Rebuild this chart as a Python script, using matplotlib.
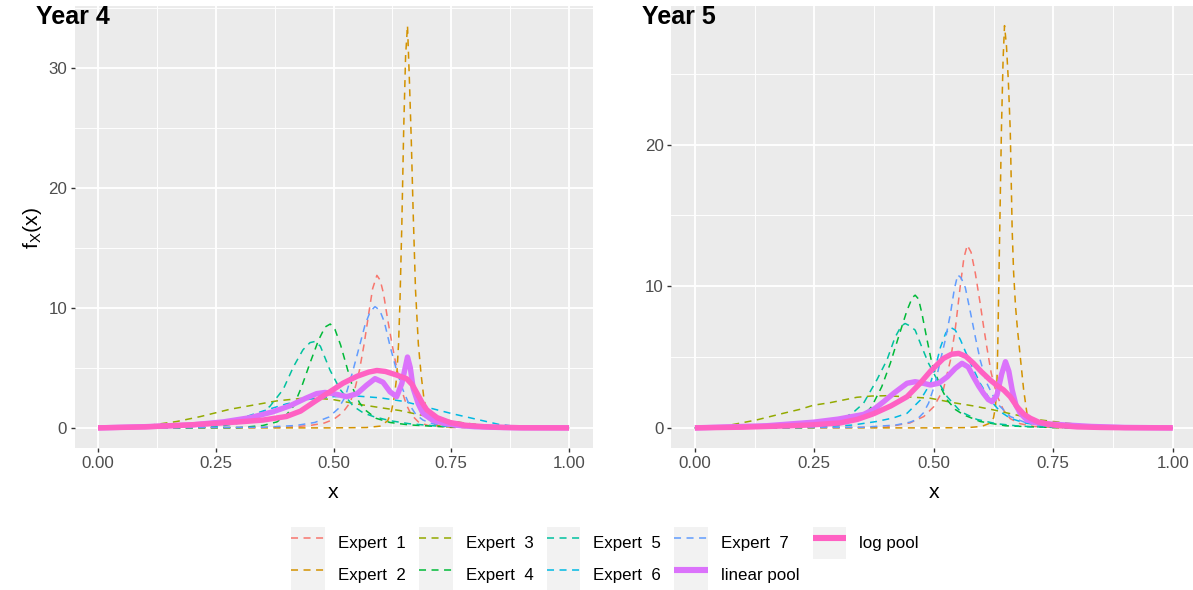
import matplotlib
matplotlib.use("Agg")
import matplotlib.pyplot as plt
from matplotlib.ticker import MultipleLocator, FuncFormatter
from matplotlib.legend_handler import HandlerLine2D
from matplotlib.patches import Rectangle
from matplotlib.lines import Line2D

plt.rcParams['font.family'] = ['Liberation Sans', 'DejaVu Sans']

# ---------------- data ----------------
series_names = ["Expert  1", "Expert  2", "Expert  3", "Expert  4", "Expert  5",
                "Expert  6", "Expert  7", "linear pool", "log pool"]
series_colors = ["#F8766D", "#D39200", "#93AA00", "#00BA38", "#00C19F",
                 "#00B9E3", "#619CFF", "#DB72FB", "#FF61C3"]
panel_titles = ["Year 4", "Year 5"]

# ---- Year 4 ----
y4_e1_x = [0.0, 0.40, 0.45, 0.48, 0.50, 0.52, 0.535, 0.545, 0.555, 0.565, 0.575, 0.583, 0.592, 0.599, 0.606, 0.615, 0.625, 0.635, 0.645, 0.655, 0.665, 0.68, 0.70, 0.75, 1.0]
y4_e1_y = [0.0, 0.05, 0.2, 0.4, 0.7, 1.3, 2.1, 3.2, 4.8, 7.0, 9.6, 11.6, 12.7, 12.3, 11.2, 9.0, 6.8, 4.8, 3.1, 1.9, 1.1, 0.5, 0.2, 0.03, 0.0]

y4_e2_x = [0.0, 0.50, 0.57, 0.60, 0.615, 0.623, 0.629, 0.634, 0.638, 0.641, 0.645, 0.649, 0.653, 0.657, 0.661, 0.665, 0.669, 0.674, 0.68, 0.686, 0.692, 0.70, 0.71, 0.73, 0.80, 1.0]
y4_e2_y = [0.0, 0.0, 0.03, 0.15, 0.6, 1.4, 2.6, 4.2, 7.0, 10.5, 17.0, 25.0, 31.0, 33.5, 29.0, 24.0, 18.0, 11.5, 7.0, 4.4, 2.4, 0.9, 0.35, 0.1, 0.01, 0.0]

y4_e3_x = [0.0, 0.05, 0.10, 0.125, 0.167, 0.217, 0.28, 0.337, 0.38, 0.43, 0.47, 0.50, 0.556, 0.605, 0.64, 0.67, 0.70, 0.74, 0.77, 0.80, 0.85, 0.90, 1.0]
y4_e3_y = [0.0, 0.02, 0.15, 0.3, 0.53, 0.94, 1.55, 1.95, 2.25, 2.45, 2.45, 2.35, 1.95, 1.65, 1.45, 1.2, 0.95, 0.65, 0.45, 0.3, 0.12, 0.03, 0.0]

y4_e4_x = [0.0, 0.30, 0.35, 0.38, 0.40, 0.415, 0.432, 0.45, 0.468, 0.482, 0.493, 0.503, 0.515, 0.528, 0.542, 0.555, 0.567, 0.59, 0.62, 0.66, 0.72, 0.80, 1.0]
y4_e4_y = [0.0, 0.02, 0.2, 0.5, 1.1, 1.8, 3.4, 5.4, 7.3, 8.4, 8.65, 8.2, 6.9, 5.1, 3.2, 2.1, 1.5, 0.8, 0.45, 0.25, 0.12, 0.04, 0.0]

y4_e5_x = [0.0, 0.20, 0.26, 0.30, 0.333, 0.365, 0.393, 0.415, 0.435, 0.45, 0.461, 0.472, 0.4926, 0.514, 0.542, 0.563, 0.585, 0.62, 0.66, 0.72, 0.80, 1.0]
y4_e5_y = [0.0, 0.03, 0.15, 0.4, 0.8, 1.8, 3.2, 5.1, 6.5, 7.1, 7.2, 6.8, 4.8, 3.2, 1.8, 1.25, 0.94, 0.6, 0.35, 0.15, 0.05, 0.0]

y4_e6_x = [0.0, 0.15, 0.25, 0.30, 0.35, 0.40, 0.45, 0.50, 0.55, 0.60, 0.65, 0.70, 0.75, 0.80, 0.85, 0.90, 0.95, 1.0]
y4_e6_y = [0.0, 0.05, 0.3, 0.75, 1.4, 2.0, 2.4, 2.6, 2.65, 2.5, 2.2, 1.7, 1.2, 0.75, 0.3, 0.06, 0.01, 0.0]

y4_e7_x = [0.0, 0.35, 0.42, 0.46, 0.49, 0.51, 0.525, 0.54, 0.555, 0.567, 0.578, 0.588, 0.598, 0.608, 0.62, 0.633, 0.647, 0.66, 0.675, 0.69, 0.71, 0.75, 0.85, 1.0]
y4_e7_y = [0.0, 0.05, 0.2, 0.45, 0.9, 1.6, 2.6, 4.6, 6.8, 8.6, 9.7, 10.1, 9.8, 8.8, 6.8, 4.9, 3.2, 2.0, 1.1, 0.65, 0.35, 0.1, 0.02, 0.0]

y4_lin_x = [0.0, 0.10, 0.20, 0.266, 0.323, 0.372, 0.408, 0.44, 0.464, 0.482, 0.50, 0.528, 0.55, 0.57, 0.588, 0.605, 0.62, 0.634, 0.645, 0.657, 0.663, 0.669, 0.68, 0.69, 0.71, 0.733, 0.76, 0.80, 0.85, 0.90, 1.0]
y4_lin_y = [0.0, 0.1, 0.25, 0.5, 0.85, 1.35, 1.85, 2.45, 2.85, 2.95, 2.85, 2.6, 2.85, 3.55, 4.1, 3.8, 3.0, 2.6, 3.7, 5.9, 5.0, 3.3, 2.0, 1.2, 0.65, 0.4, 0.22, 0.1, 0.04, 0.01, 0.0]

y4_log_x = [0.0, 0.10, 0.195, 0.25, 0.30, 0.35, 0.40, 0.43, 0.464, 0.49, 0.52, 0.55, 0.575, 0.592, 0.61, 0.634, 0.655, 0.667, 0.677, 0.688, 0.698, 0.72, 0.747, 0.78, 0.82, 0.86, 0.90, 1.0]
y4_log_y = [0.0, 0.08, 0.25, 0.38, 0.5, 0.65, 0.95, 1.4, 2.3, 2.95, 3.72, 4.3, 4.65, 4.78, 4.7, 4.4, 4.1, 3.6, 2.9, 2.1, 1.5, 0.85, 0.45, 0.22, 0.1, 0.04, 0.01, 0.0]

# ---- Year 5 ----
y5_e1_x = [0.0, 0.40, 0.45, 0.479, 0.50, 0.52, 0.535, 0.545, 0.555, 0.563, 0.570, 0.578, 0.587, 0.597, 0.604, 0.611, 0.62, 0.632, 0.646, 0.66, 0.68, 0.71, 0.76, 1.0]
y5_e1_y = [0.0, 0.05, 0.35, 0.8, 1.5, 2.7, 4.8, 7.0, 9.9, 12.0, 12.9, 12.4, 10.9, 8.8, 7.2, 5.7, 3.9, 2.3, 1.25, 0.65, 0.3, 0.1, 0.02, 0.0]

y5_e2_x = [0.0, 0.50, 0.57, 0.60, 0.615, 0.625, 0.629, 0.632, 0.634, 0.636, 0.638, 0.6415, 0.645, 0.648, 0.652, 0.656, 0.660, 0.664, 0.667, 0.671, 0.675, 0.681, 0.688, 0.695, 0.705, 0.72, 0.75, 1.0]
y5_e2_y = [0.0, 0.0, 0.02, 0.1, 0.3, 0.7, 1.5, 3.0, 6.0, 10.0, 14.0, 21.0, 26.0, 28.4, 27.0, 24.5, 21.0, 14.0, 11.0, 8.6, 7.0, 5.0, 2.7, 1.0, 0.35, 0.1, 0.02, 0.0]

y5_e3_x = [0.0, 0.05, 0.094, 0.129, 0.185, 0.22, 0.248, 0.283, 0.311, 0.339, 0.37, 0.40, 0.44, 0.493, 0.541, 0.583, 0.625, 0.667, 0.70, 0.723, 0.75, 0.779, 0.82, 0.87, 0.92, 1.0]
y5_e3_y = [0.0, 0.05, 0.33, 0.56, 1.03, 1.31, 1.6, 1.78, 1.97, 2.16, 2.25, 2.27, 2.2, 2.09, 1.78, 1.55, 1.27, 0.95, 0.72, 0.56, 0.45, 0.33, 0.18, 0.08, 0.02, 0.0]

y5_e4_x = [0.0, 0.25, 0.30, 0.339, 0.355, 0.370, 0.391, 0.409, 0.426, 0.444, 0.455, 0.461, 0.468, 0.475, 0.486, 0.496, 0.514, 0.528, 0.545, 0.5625, 0.597, 0.65, 0.72, 0.80, 1.0]
y5_e4_y = [0.0, 0.03, 0.2, 0.56, 0.95, 1.5, 2.9, 4.56, 6.4, 8.3, 9.2, 9.37, 9.1, 8.1, 6.2, 4.56, 2.9, 1.97, 1.3, 0.92, 0.45, 0.15, 0.05, 0.01, 0.0]

y5_e5_x = [0.0, 0.22, 0.27, 0.30, 0.318, 0.335, 0.353, 0.381, 0.402, 0.419, 0.432, 0.440, 0.450, 0.461, 0.475, 0.489, 0.507, 0.528, 0.556, 0.59, 0.63, 0.68, 0.75, 1.0]
y5_e5_y = [0.0, 0.03, 0.2, 0.5, 0.8, 1.2, 1.74, 3.4, 4.8, 6.4, 7.2, 7.37, 7.2, 6.9, 5.7, 4.56, 3.4, 2.2, 1.15, 0.6, 0.3, 0.12, 0.03, 0.0]

y5_e6_x = [0.0, 0.25, 0.33, 0.38, 0.415, 0.444, 0.472, 0.493, 0.505, 0.514, 0.525, 0.535, 0.545, 0.556, 0.566, 0.577, 0.597, 0.618, 0.639, 0.66, 0.69, 0.73, 0.80, 0.90, 1.0]
y5_e6_y = [0.0, 0.05, 0.2, 0.45, 0.7, 1.03, 1.97, 3.15, 4.5, 5.7, 6.7, 7.1, 6.9, 6.2, 5.4, 4.56, 3.15, 1.97, 1.15, 0.68, 0.35, 0.15, 0.04, 0.01, 0.0]

y5_e7_x = [0.0, 0.35, 0.42, 0.45, 0.465, 0.478, 0.489, 0.503, 0.514, 0.524, 0.535, 0.543, 0.550, 0.557, 0.566, 0.577, 0.587, 0.597, 0.611, 0.632, 0.66, 0.69, 0.73, 0.80, 1.0]
y5_e7_y = [0.0, 0.04, 0.2, 0.4, 0.6, 1.05, 1.74, 3.15, 4.8, 6.2, 8.1, 9.8, 10.8, 10.6, 9.9, 8.1, 6.4, 4.8, 3.15, 1.74, 0.8, 0.4, 0.15, 0.04, 0.0]

y5_lin_x = [0.0, 0.05, 0.15, 0.248, 0.30, 0.353, 0.374, 0.395, 0.416, 0.444, 0.461, 0.478, 0.493, 0.51, 0.528, 0.545, 0.559, 0.572, 0.583, 0.594, 0.604, 0.614, 0.622, 0.632, 0.642, 0.650, 0.657, 0.664, 0.672, 0.681, 0.695, 0.709, 0.74, 0.779, 0.83, 0.90, 1.0]
y5_lin_y = [0.0, 0.05, 0.15, 0.4, 0.62, 0.95, 1.3, 1.85, 2.44, 3.15, 3.26, 3.15, 3.03, 3.15, 3.6, 4.2, 4.56, 4.3, 3.6, 2.95, 2.44, 2.0, 1.85, 2.3, 3.8, 4.67, 4.0, 2.68, 1.6, 1.03, 0.56, 0.4, 0.28, 0.2, 0.1, 0.03, 0.0]

y5_log_x = [0.0, 0.10, 0.20, 0.248, 0.304, 0.34, 0.374, 0.41, 0.444, 0.47, 0.493, 0.52, 0.537, 0.552, 0.567, 0.583, 0.60, 0.618, 0.632, 0.646, 0.66, 0.674, 0.688, 0.702, 0.72, 0.75, 0.80, 0.85, 0.90, 1.0]
y5_log_y = [0.0, 0.05, 0.15, 0.22, 0.35, 0.6, 1.0, 1.55, 2.2, 3.1, 4.0, 4.9, 5.2, 5.26, 5.05, 4.56, 3.95, 3.38, 3.0, 2.68, 2.2, 1.5, 0.98, 0.68, 0.4, 0.2, 0.07, 0.03, 0.01, 0.0]

year4 = [(y4_e1_x, y4_e1_y), (y4_e2_x, y4_e2_y), (y4_e3_x, y4_e3_y), (y4_e4_x, y4_e4_y),
         (y4_e5_x, y4_e5_y), (y4_e6_x, y4_e6_y), (y4_e7_x, y4_e7_y),
         (y4_lin_x, y4_lin_y), (y4_log_x, y4_log_y)]
year5 = [(y5_e1_x, y5_e1_y), (y5_e2_x, y5_e2_y), (y5_e3_x, y5_e3_y), (y5_e4_x, y5_e4_y),
         (y5_e5_x, y5_e5_y), (y5_e6_x, y5_e6_y), (y5_e7_x, y5_e7_y),
         (y5_lin_x, y5_lin_y), (y5_log_x, y5_log_y)]

# ---------------- figure ----------------
W, H = 1193, 590
fig = plt.figure(figsize=(W / 100, H / 100), dpi=100)
fig.patch.set_facecolor('white')

TICK_FS = 12.2
TEXT_COL = '#4D4D4D'
DASH_LW = 1.1
POOL_LW = 3.9
DASHES = (4.6, 3.6)

# panel pixel boxes (left, right, top, bottom)
panels_px = [(74.5, 592.6, 5.5, 448.0), (671.0, 1196.6, 5.5, 448.0)]

for i, (data, (l, r, t, b)) in enumerate(zip([year4, year5], panels_px)):
    ax = fig.add_axes([l / W, 1 - b / H, (r - l) / W, (b - t) / H])
    ax.set_facecolor('#EBEBEB')
    for s in ax.spines.values():
        s.set_visible(False)
    for k, (xs, ys) in enumerate(data):
        if k < 7:
            ax.plot(xs, ys, color=series_colors[k], lw=DASH_LW, dashes=DASHES, zorder=3)
        else:
            ax.plot(xs, ys, color=series_colors[k], lw=POOL_LW, solid_capstyle='butt', zorder=4 + k)
    ymax = max(max(ys) for _, ys in data)
    ax.set_xlim(-0.05, 1.05)
    ax.set_ylim(-0.05 * ymax, 1.05 * ymax)
    ax.xaxis.set_major_locator(MultipleLocator(0.25))
    ax.xaxis.set_minor_locator(MultipleLocator(0.125))
    ax.yaxis.set_major_locator(MultipleLocator(10))
    ax.yaxis.set_minor_locator(MultipleLocator(5))
    ax.xaxis.set_major_formatter(FuncFormatter(lambda v, p: f"{v:.2f}"))
    ax.yaxis.set_major_formatter(FuncFormatter(lambda v, p: f"{v:.0f}"))
    ax.grid(True, which='major', color='white', lw=1.3, zorder=0)
    ax.grid(True, which='minor', color='white', lw=0.65, zorder=0)
    ax.set_axisbelow(True)
    ax.tick_params(which='major', length=3.2, width=1.0, color='#333333',
                   labelsize=TICK_FS, labelcolor=TEXT_COL, pad=2.2)
    ax.tick_params(which='minor', length=0)
    fig.text(((l + r) / 2) / W, 1 - 498 / H, 'x', ha='center', va='baseline', fontsize=15.3)

fig.text(36 / W, 1 - 24.5 / H, panel_titles[0], fontsize=18, fontweight='bold', va='baseline', ha='left')
fig.text(642 / W, 1 - 24.5 / H, panel_titles[1], fontsize=18, fontweight='bold', va='baseline', ha='left')

fig.text(32 / W, 1 - 228 / H, r'$\mathregular{f_X(x)}$', rotation=90, fontsize=15.3,
         ha='center', va='center')

# ---------------- legend ----------------
class KeyBG(HandlerLine2D):
    def create_artists(self, legend, orig_handle, xdescent, ydescent, width, height, fontsize, trans):
        arts = super().create_artists(legend, orig_handle, xdescent, ydescent, width, height, fontsize, trans)
        rect = Rectangle((-xdescent, -ydescent), width, height, facecolor='#F2F2F2',
                         edgecolor='none', transform=trans)
        return [rect] + list(arts)

handles = []
for k, c in enumerate(series_colors):
    if k < 7:
        handles.append(Line2D([], [], color=c, lw=DASH_LW, dashes=DASHES))
    else:
        handles.append(Line2D([], [], color=c, lw=4.4, solid_capstyle='butt'))

leg = fig.legend(handles, series_names, loc='center', bbox_to_anchor=(605 / W, 1 - 559 / H),
                 ncol=5, frameon=False, fontsize=TICK_FS, handlelength=2.0, handleheight=2.53,
                 handletextpad=0.75, columnspacing=0.78, labelspacing=0.0, borderpad=0,
                 handler_map={Line2D: KeyBG()})

fig.savefig('out.png', dpi=100, facecolor='white')
